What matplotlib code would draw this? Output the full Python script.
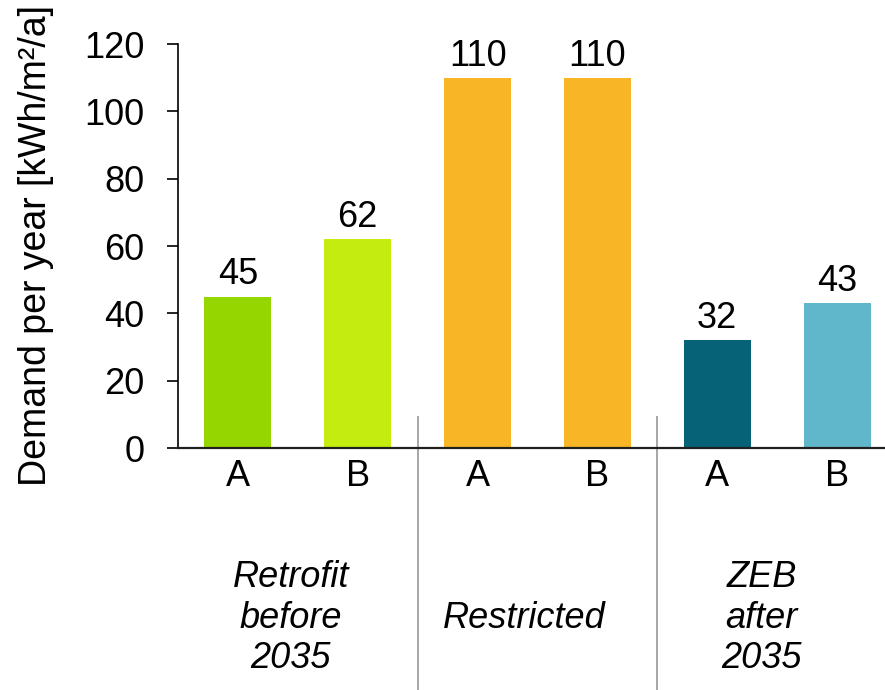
import matplotlib
matplotlib.use("Agg")
import matplotlib.pyplot as plt

# Data
variants = ["A", "B", "A", "B", "A", "B"]
demand = [45, 62, 110, 110, 32, 43]
bar_colors = ["#95d600", "#c4ec0e", "#f8b626", "#f8b626", "#066377", "#60b7cb"]
groups = ["Retrofit\nbefore\n2035", "Restricted", "ZEB\nafter\n2035"]
y_ticks = [0, 20, 40, 60, 80, 100, 120]
y_label = "Demand per year [kWh/m²/a]"

plt.rcParams["font.family"] = ["Liberation Sans", "DejaVu Sans"]
FS = 26

fig = plt.figure(figsize=(8.85, 6.9), dpi=100)
W, H = 885, 690
left, right, bottom, top = 178, 885, 448, 44
ax = fig.add_axes([left / W, (H - bottom) / H, (right - left) / W, (bottom - top) / H])

x = list(range(len(demand)))
bars = ax.bar(x, demand, width=0.56, color=bar_colors, zorder=2)

for xi, v in zip(x, demand):
    ax.annotate(f"{v}", (xi, v), xytext=(0, 3), textcoords="offset points",
                ha="center", va="bottom", fontsize=FS, color="black")

ax.set_xlim(-0.5, 5.4)
ax.set_ylim(0, 120)
ax.set_yticks(y_ticks)
ax.set_xticks(x)
ax.set_xticklabels(variants)

ax.tick_params(axis="y", direction="out", length=8, width=1.2, pad=16, labelsize=FS)
ax.tick_params(axis="x", length=0, pad=8, labelsize=FS)

for s in ("top", "right"):
    ax.spines[s].set_visible(False)
ax.spines["left"].set_linewidth(1.2)
ax.spines["bottom"].set_linewidth(1.6)
ax.spines["bottom"].set_color("#202020")

ax.set_ylabel(y_label, fontsize=27, labelpad=22)

# Group separators running below the axis
for sx in (1.5, 3.5):
    ax.plot([sx, sx], [9.2, -80], color="#a6a6a6", lw=1.4, clip_on=False, zorder=1)

# Group captions
group_x = [0.44, 2.39, 4.37]
for gx, g in zip(group_x, groups):
    ax.text(gx, -50.5, g, ha="center", va="center", fontsize=FS, style="italic",
            linespacing=1.2, transform=ax.transData, clip_on=False)

fig.savefig("out.png", dpi=100)
